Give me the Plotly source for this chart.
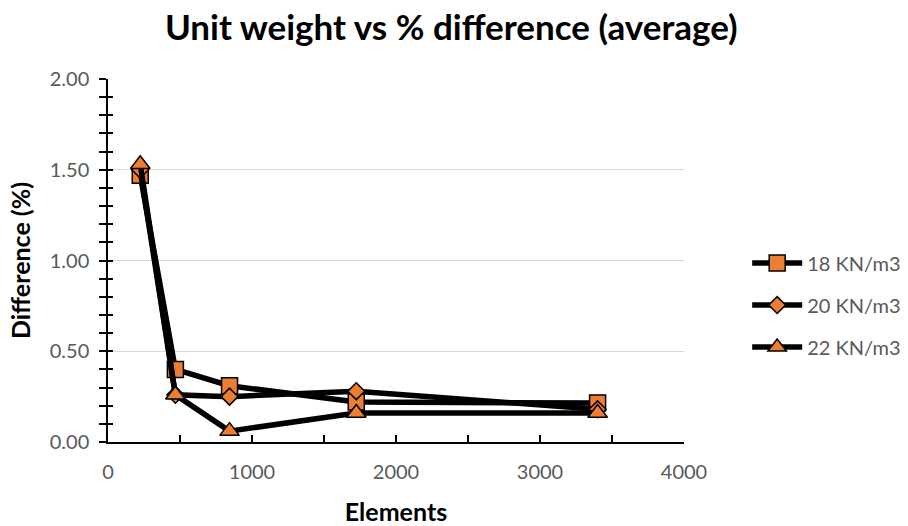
import plotly.graph_objects as go

# Mesh size (number of elements) and average % difference per unit weight
elements = [224, 468, 844, 1724, 3400]
diff_18 = [1.47, 0.40, 0.31, 0.22, 0.215]
diff_20 = [1.50, 0.26, 0.25, 0.28, 0.18]
diff_22 = [1.53, 0.26, 0.06, 0.16, 0.16]

series_names = ["18 KN/m3", "20 KN/m3", "22 KN/m3"]
series_values = [diff_18, diff_20, diff_22]
symbols = ["square", "diamond", "triangle-up"]
sizes = [16, 13, 17]

ORANGE = "#ED7D31"
FONT = "Lato"
GREY = "#595959"

fig = go.Figure()
for name, vals, sym, sz in zip(series_names, series_values, symbols, sizes):
    fig.add_trace(go.Scatter(
        x=elements, y=vals, name=name, mode="lines+markers",
        legendgroup=name,
        line=dict(color="black", width=5.5),
        marker=dict(symbol=sym, size=sz, color=ORANGE,
                    line=dict(color="black", width=1.5)),
    ))

# helper trace so the second y axis (inner half of the cross ticks) is drawn
fig.add_trace(go.Scatter(x=[], y=[], xaxis="x", yaxis="y2",
                         showlegend=False, hoverinfo="skip"))

fig.update_layout(
    width=908, height=526,
    margin=dict(l=108, r=224, t=79, b=84),
    paper_bgcolor="white", plot_bgcolor="white",
    font=dict(family=FONT, color=GREY, size=20),
    title=dict(text="<b>Unit weight vs % difference (average)</b>",
               x=0.497, xanchor="center", y=0.948, yanchor="middle",
               font=dict(family=FONT, size=35, color="black")),
    xaxis=dict(
        range=[0, 4000], dtick=1000, tick0=0, automargin=False,
        showgrid=False, zeroline=False,
        showline=True, linecolor="black", linewidth=1.5,
        ticks="inside", ticklen=7, tickwidth=1.5, tickcolor="black",
        minor=dict(dtick=500, ticks="inside", ticklen=7, tickwidth=1.5,
                   tickcolor="black", showgrid=False),
        tickfont=dict(family=FONT, size=20, color=GREY),
        ticklabelstandoff=11,
        title=dict(text="<b>Elements</b>", standoff=24,
                   font=dict(family=FONT, size=25, color="black")),
    ),
    yaxis=dict(
        range=[0, 2], dtick=0.5, tick0=0, tickformat=".2f", automargin=False,
        showgrid=True, gridcolor="#D9D9D9", gridwidth=1,
        zeroline=False,
        showline=True, linecolor="black", linewidth=1.5,
        ticks="outside", ticklen=7, tickwidth=1.5, tickcolor="black",
        minor=dict(dtick=0.1, ticks="outside", ticklen=7, tickwidth=1.5,
                   tickcolor="black", showgrid=False),
        tickfont=dict(family=FONT, size=20, color=GREY),
        ticklabelstandoff=6,
        title=dict(text="<b>Difference (%)</b>", standoff=12,
                   font=dict(family=FONT, size=25, color="black")),
    ),
    yaxis2=dict(
        range=[0, 2], dtick=0.5, tick0=0, overlaying="y", side="left",
        anchor="x", showgrid=False, zeroline=False, showline=False,
        showticklabels=False, automargin=False,
        ticks="inside", ticklen=5, tickwidth=1.5, tickcolor="black",
        minor=dict(dtick=0.1, ticks="inside", ticklen=5, tickwidth=1.5,
                   tickcolor="black", showgrid=False),
    ),
    legend=dict(
        xref="container", yref="container",
        x=0.998, xanchor="right", y=0.42, yanchor="middle",
        bgcolor="rgba(0,0,0,0)",
        font=dict(family=FONT, size=20, color=GREY),
        tracegroupgap=13, traceorder="grouped",
        itemwidth=50,
    ),
    showlegend=True,
)

fig.write_html("out.html")
